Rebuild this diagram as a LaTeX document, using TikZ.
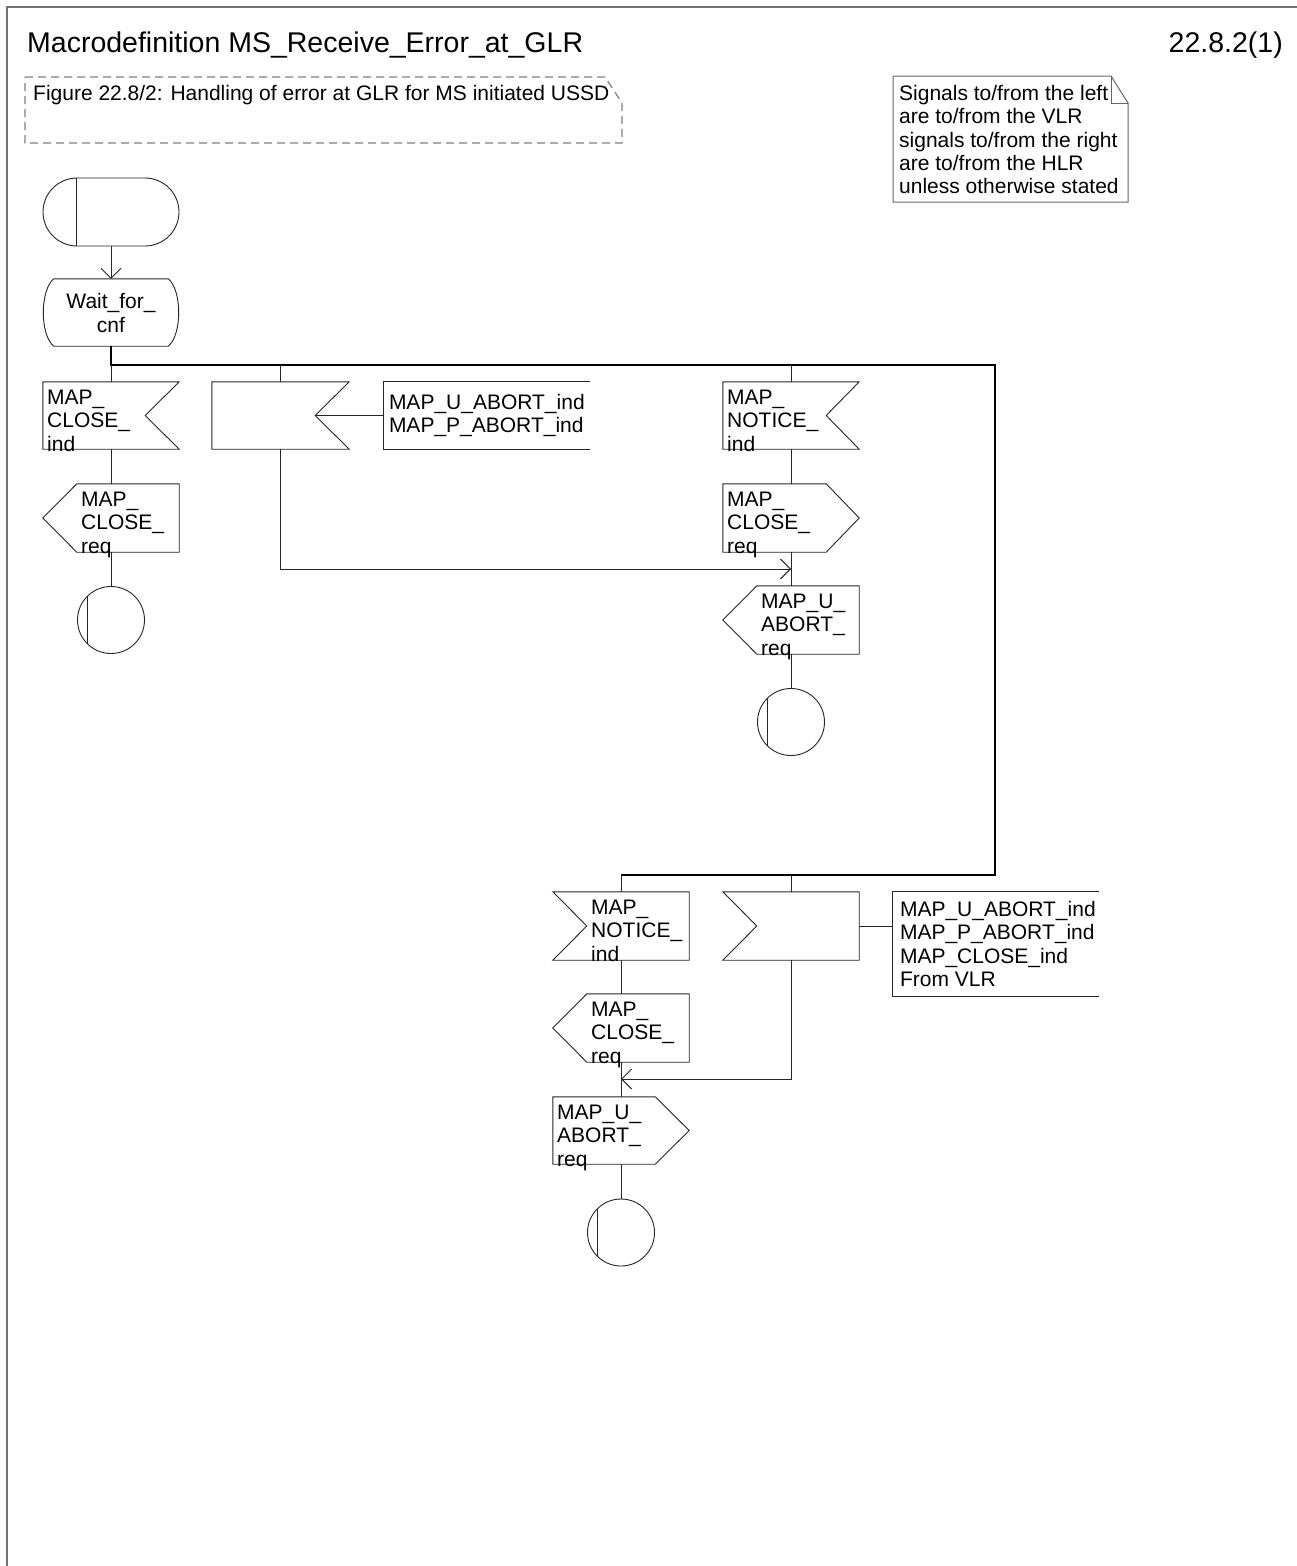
\documentclass[tikz,border=0pt]{standalone}
\usepackage{fontspec}
\setmainfont{Liberation Sans}
\usetikzlibrary{arrows.meta,calc}
\begin{document}
\begin{tikzpicture}[x=1pt,y=-1pt,
  ln/.style={line width=0.9pt, draw=black!85},
  bus/.style={line width=1.4pt, draw=black},
  symb/.style={rectangle, minimum width=136pt, minimum height=67pt, inner sep=0pt, draw=none},
  cmt/.style={rectangle, minimum width=206pt, inner sep=0pt, draw=none},
  txt/.style={font=\fontsize{21}{23.3}\selectfont, inner sep=0pt, align=left, anchor=north west},
  ctxt/.style={font=\fontsize{21}{23.3}\selectfont, inner sep=0pt, align=left, anchor=west},
  bigtxt/.style={font=\fontsize{28.5}{34}\selectfont, inner sep=0pt},
  arr/.style={-{Straight Barb[length=10pt,width=20pt,line width=0.9pt]}},
  endc/.style={circle, minimum size=67pt, inner sep=0pt, draw=black!85, line width=0.9pt},
  frm/.style={line width=1.5pt, draw=black!55},
  notec/.style={line width=1pt, draw=black!60},
  dsh/.style={line width=1.2pt, draw=black!50, dash pattern=on 8pt off 5pt}
]
\useasboundingbox (0,0) rectangle (1297,1566);
\fill[white] (0,0) rectangle (1297,1566);
% frame
\draw[frm] (7,1566) -- (7,7) -- (1297,7);
% title
\node[bigtxt, anchor=base west] (title) at (27,52) {Macrodefinition MS\_Receive\_Error\_at\_GLR};
\node[bigtxt, anchor=base east] (pagenum) at (1283,52) {22.8.2(1)};
% dashed figure box
\draw[dsh] (25,77) -- (605,77) -- (622,103) -- (622,143) -- (25,143) -- cycle;
\node[font=\fontsize{21}{23.3}\selectfont, inner sep=0pt, anchor=base west] (figtxt) at (33,100) {Figure 22.8/2: Handling of error at GLR for MS initiated USSD};
% note box
\draw[notec] (893,76) -- (1111,76) -- (1128,103) -- (1128,202) -- (893,202) -- cycle;
\draw[notec] (1111,76) -- (1111,103) -- (1128,103);
\node[txt] (notetxt) at (899,85) {Signals to/from the left\\are to/from the VLR\\signals to/from the right\\are to/from the HLR\\unless otherwise stated};

% start
\node[symb, minimum height=68pt, rounded corners=34pt, draw=black!85, line width=0.9pt] (start) at (111,212) {};
\draw[ln] ($(start.north west)+(34,0)$) -- ($(start.south west)+(34,0)$);
% wait state
\node[symb] (wait) at (111,312.5) {};
\draw[ln] ($(wait.north west)+(11,0)$) -- ($(wait.north east)+(-11,0)$)
  .. controls ($(wait.north east)+(3,11)$) and ($(wait.south east)+(3,-11)$) .. ($(wait.south east)+(-11,0)$)
  -- ($(wait.south west)+(11,0)$)
  .. controls ($(wait.south west)+(-3,-11)$) and ($(wait.north west)+(-3,11)$) .. cycle;
\node[font=\fontsize{21}{23.3}\selectfont, inner sep=0pt, align=center] (waittxt) at (111,313) {Wait\_for\_\\cnf};
\draw[ln, arr] (start.south) -- (wait.north);

% bus
\coordinate (b0) at (111,365);
\coordinate (b1) at (280.5,365);
\coordinate (b2) at (791,365);
\coordinate (br) at (995,365);
\coordinate (bl) at (995,875);
\coordinate (b3) at (621,875);
\coordinate (b4) at (791,875);
\draw[bus] (wait.south) -- (b0) -- (br) -- (bl) -- (b3);

% ---- branch 1: MAP_CLOSE_ind
\node[symb] (c1in) at (111,415.5) {};
\draw[ln] (c1in.north west) -- (c1in.north east) -- ($(c1in.east)+(-34,0)$) -- (c1in.south east) -- (c1in.south west) -- cycle;
\node[txt] (c1intxt) at (47,390) {MAP\_\\CLOSE\_\\ind};
\node[symb, minimum height=68pt] (c1out) at (111,518) {};
\draw[ln] ($(c1out.north west)+(34,0)$) -- (c1out.north east) -- (c1out.south east) -- ($(c1out.south west)+(34,0)$) -- (c1out.west) -- cycle;
\node[txt] (c1outtxt) at (81,492) {MAP\_\\CLOSE\_\\req};
\node[endc] (e1) at (111,620) {};
\draw[ln] ($(e1.center)+(-23.5,-24)$) -- ($(e1.center)+(-23.5,24)$);
\draw[ln] (b0) -- (c1in.north);
\draw[ln] (c1in.south) -- (c1out.north);
\draw[ln] (c1out.south) -- (e1.north);

% ---- branch 2: aborts (empty input)
\node[symb, minimum width=137pt] (ab1) at (280.5,415.5) {};
\draw[ln] (ab1.north west) -- (ab1.north east) -- ($(ab1.east)+(-34,0)$) -- (ab1.south east) -- (ab1.south west) -- cycle;
\node[cmt, minimum height=67pt] (cm1) at (487,415.5) {};
\draw[ln] (cm1.north east) -- (cm1.north west) -- (cm1.south west) -- (cm1.south east);
\draw[ln] ($(ab1.east)+(-34,0)$) -- (cm1.west);
\node[ctxt] (cm1txt) at ($(cm1.west)+(5,0)$) {MAP\_U\_ABORT\_ind\\MAP\_P\_ABORT\_ind};
\draw[ln] (b1) -- (ab1.north);
\coordinate (j1) at (791,569);
\draw[ln, arr] (ab1.south) |- (j1);

% ---- branch 3: MAP_NOTICE_ind
\node[symb] (n1) at (791,415.5) {};
\draw[ln] (n1.north west) -- (n1.north east) -- ($(n1.east)+(-33,0)$) -- (n1.south east) -- (n1.south west) -- cycle;
\node[txt] (n1txt) at (727,390) {MAP\_\\NOTICE\_\\ind};
\node[symb, minimum height=68pt] (cl3) at (791,518) {};
\draw[ln] (cl3.north west) -- ($(cl3.north east)+(-33,0)$) -- (cl3.east) -- ($(cl3.south east)+(-33,0)$) -- (cl3.south west) -- cycle;
\node[txt] (cl3txt) at (727,492) {MAP\_\\CLOSE\_\\req};
\node[symb, minimum height=68pt] (ua3) at (791,620) {};
\draw[ln] ($(ua3.north west)+(34,0)$) -- (ua3.north east) -- (ua3.south east) -- ($(ua3.south west)+(34,0)$) -- (ua3.west) -- cycle;
\node[txt] (ua3txt) at (761,594) {MAP\_U\_\\ABORT\_\\req};
\node[endc] (e3) at (791,722) {};
\draw[ln] ($(e3.center)+(-23.5,-24)$) -- ($(e3.center)+(-23.5,24)$);
\draw[ln] (b2) -- (n1.north);
\draw[ln] (n1.south) -- (cl3.north);
\draw[ln] (cl3.south) -- (ua3.north);
\draw[ln] (ua3.south) -- (e3.north);

% ---- lower branch A: MAP_NOTICE_ind from left
\node[symb, minimum height=68pt] (n2) at (621,926) {};
\draw[ln] (n2.north west) -- (n2.north east) -- (n2.south east) -- (n2.south west) -- ($(n2.west)+(34,0)$) -- cycle;
\node[txt] (n2txt) at (591,900) {MAP\_\\NOTICE\_\\ind};
\node[symb, minimum height=68pt] (cl4) at (621,1028) {};
\draw[ln] ($(cl4.north west)+(34,0)$) -- (cl4.north east) -- (cl4.south east) -- ($(cl4.south west)+(34,0)$) -- (cl4.west) -- cycle;
\node[txt] (cl4txt) at (591,1002) {MAP\_\\CLOSE\_\\req};
\node[symb] (ua4) at (621,1130.5) {};
\draw[ln] (ua4.north west) -- ($(ua4.north east)+(-34,0)$) -- (ua4.east) -- ($(ua4.south east)+(-34,0)$) -- (ua4.south west) -- cycle;
\node[txt] (ua4txt) at (557,1105) {MAP\_U\_\\ABORT\_\\req};
\node[endc] (e4) at (621,1232.5) {};
\draw[ln] ($(e4.center)+(-23.5,-24)$) -- ($(e4.center)+(-23.5,24)$);
\draw[ln] (b3) -- (n2.north);
\draw[ln] (n2.south) -- (cl4.north);
\draw[ln] (cl4.south) -- (ua4.north);
\draw[ln] (ua4.south) -- (e4.north);

% ---- lower branch B: aborts (empty input from left)
\node[symb, minimum height=68pt] (ab2) at (791,926) {};
\draw[ln] (ab2.north west) -- (ab2.north east) -- (ab2.south east) -- (ab2.south west) -- ($(ab2.west)+(34,0)$) -- cycle;
\node[cmt, minimum height=104pt] (cm2) at (996,944) {};
\draw[ln] (cm2.north east) -- (cm2.north west) -- (cm2.south west) -- (cm2.south east);
\draw[ln] (ab2.east) -- (ab2.east -| cm2.west);
\node[ctxt] (cm2txt) at ($(cm2.west)+(7,0)$) {MAP\_U\_ABORT\_ind\\MAP\_P\_ABORT\_ind\\MAP\_CLOSE\_ind\\From VLR};
\draw[ln] (b4) -- (ab2.north);
\coordinate (j2) at (621,1079);
\draw[ln, arr] (ab2.south) |- (j2);
\end{tikzpicture}
\end{document}
